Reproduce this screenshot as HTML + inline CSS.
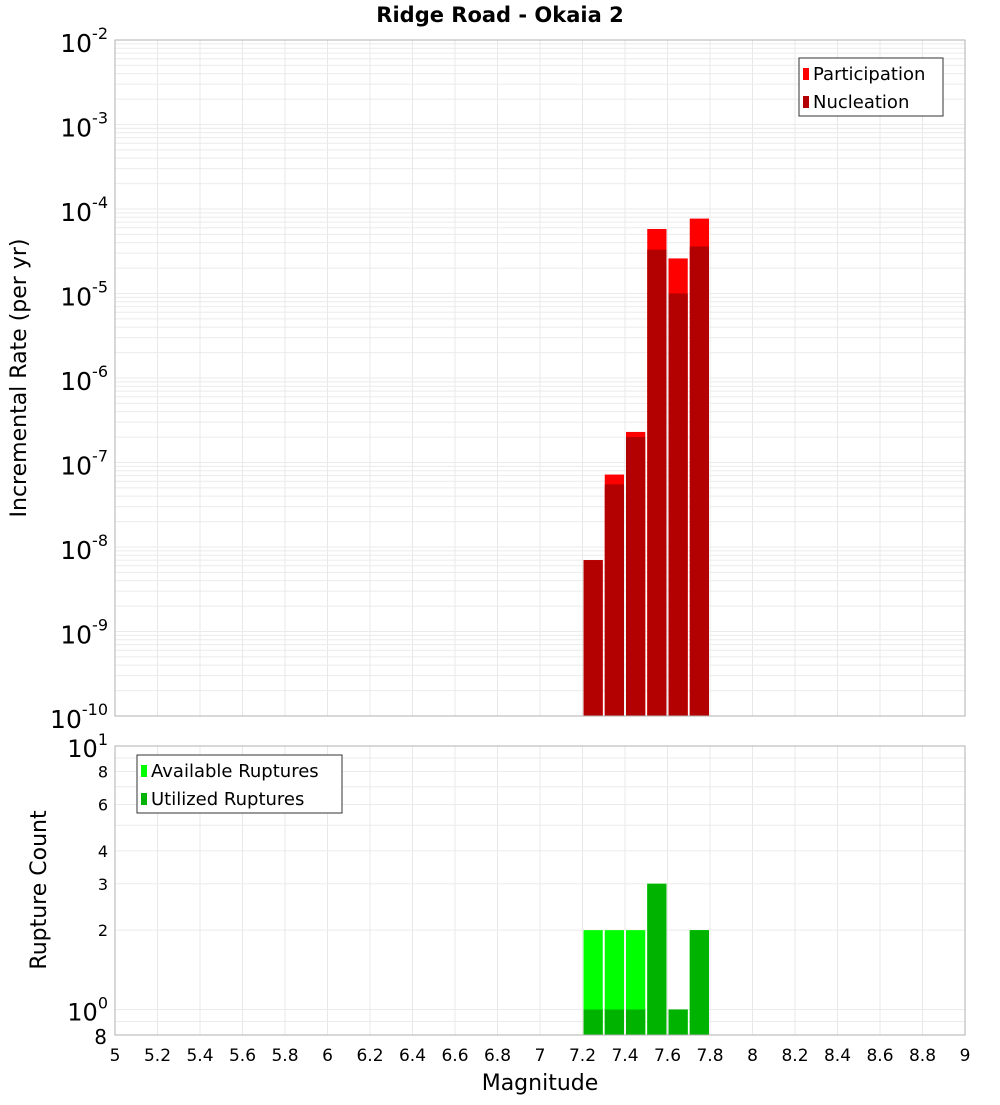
<!DOCTYPE html>
<html><head><meta charset="utf-8"><style>
body{margin:0;background:#fff}
svg text{font-family:"DejaVu Sans","Liberation Sans",sans-serif}
</style></head><body>
<svg id="c" width="1000" height="1100" xmlns="http://www.w3.org/2000/svg"></svg>
<script>
const binCenters=[7.25,7.35,7.45,7.55,7.65,7.75];
const participation=[7e-9,7.2e-8,2.3e-7,5.8e-5,2.6e-5,7.7e-5];
const nucleation=[7e-9,5.5e-8,2.0e-7,3.3e-5,1.0e-5,3.6e-5];
const available=[2,2,2,3,1,2];
const utilized=[1,1,1,3,1,2];
const xTicks=[5,5.2,5.4,5.6,5.8,6,6.2,6.4,6.6,6.8,7,7.2,7.4,7.6,7.8,8,8.2,8.4,8.6,8.8,9];
const topExps=[-2,-3,-4,-5,-6,-7,-8,-9,-10];
const botTicks=[8,1,2,3,4,6,8,10];

const svg=document.getElementById('c');
const NS='http://www.w3.org/2000/svg';
function mk(t,a,p){const e=document.createElementNS(NS,t);for(const k in a)e.setAttribute(k,a[k]);(p||svg).appendChild(e);return e;}
const L=115,R=965,T1=40,B1=716,T2=746,B2=1035;
const X=m=>L+(m-5)*(R-L)/4;
const Y1=v=>T1+(-2-Math.log10(v))*(B1-T1)/8;
const bMin=0.8,bMax=10;
const Y2=v=>T2+(Math.log10(bMax)-Math.log10(v))*(B2-T2)/(Math.log10(bMax)-Math.log10(bMin));

// title
let t=mk('text',{x:500,y:22,'text-anchor':'middle','font-size':21,'font-weight':'bold'});t.textContent='Ridge Road - Okaia 2';



// grids top
const g1=mk('g',{});


xTicks.forEach(m=>mk('line',{x1:X(m),x2:X(m),y1:T1,y2:B1,stroke:'#e8e8e8'},g1));
for(let e=-10;e<-2;e++)for(let k=1;k<10;k++){const y=Y1(k*Math.pow(10,e));mk('line',{x1:L,x2:R,y1:y,y2:y,stroke:'#ebebeb'},g1);}
// grids bottom
const g2=mk('g',{});


xTicks.forEach(m=>mk('line',{x1:X(m),x2:X(m),y1:T2,y2:B2,stroke:'#e8e8e8'},g2));
[0.8,0.9,1,2,3,4,5,6,7,8,9,10].forEach(v=>{const y=Y2(v);mk('line',{x1:L,x2:R,y1:y,y2:y,stroke:'#ebebeb'},g2);});

// bars top
const bw=(R-L)/40;
binCenters.forEach((m,i)=>{
  const x=X(m)-bw/2+1,w=bw-2;
  let r=mk('rect',{x:x,y:Y1(participation[i]),width:w,height:B1-Y1(participation[i]),fill:'#ff0000'});
  
  
  r=mk('rect',{x:x,y:Y1(nucleation[i]),width:w,height:B1-Y1(nucleation[i]),fill:'#b30000'});
  
  
  r=mk('rect',{x:x,y:Y2(available[i]),width:w,height:B2-Y2(available[i]),fill:'#00ff00'});
  
  
  r=mk('rect',{x:x,y:Y2(utilized[i]),width:w,height:B2-Y2(utilized[i]),fill:'#00b300'});
  
  
});

// frames
mk('rect',{x:L,y:T1,width:R-L,height:B1-T1,fill:'none',stroke:'#b0b0b0'});
mk('rect',{x:L,y:T2,width:R-L,height:B2-T2,fill:'none',stroke:'#b0b0b0'});

// top y labels
topExps.forEach(e=>{
  const y=Y1(Math.pow(10,e));
  const tx=mk('text',{x:108,y:y+12,'text-anchor':'end','font-size':25});
  
  
  tx.innerHTML='10<tspan dy="-13" font-size="16">'+e+'</tspan>';
});
// bottom y labels
const botLab=[[10,'10',1],[1,'10',0]];
botLab.forEach(b=>{const y=Y2(b[0]);const tx=mk('text',{x:108,y:y+11,'text-anchor':'end','font-size':24});
  
  
  tx.innerHTML=b[1]+'<tspan dy="-12" font-size="16">'+b[2]+'</tspan>';});
botTicks.forEach((v,i)=>{
  if(v===1||v===10)return;
  const val=(i===0)?0.8:v;const big=(i===0);
  const tx=mk('text',{x:big?107:108,y:Y2(val)+(big?9:6),'text-anchor':'end','font-size':big?20:16});
  
  
  tx.textContent=v;
});
// x labels
xTicks.forEach(m=>{const tx=mk('text',{x:X(m),y:1061,'text-anchor':'middle','font-size':17});
  
  
  tx.textContent=m;});
t=mk('text',{x:540,y:1090,'text-anchor':'middle','font-size':22});t.textContent='Magnitude';


t=mk('text',{x:0,y:0,'text-anchor':'middle','font-size':22,transform:'translate(26,378) rotate(-90)'});t.textContent='Incremental Rate (per yr)';


t=mk('text',{x:0,y:0,'text-anchor':'middle','font-size':22,transform:'translate(46,890) rotate(-90)'});t.textContent='Rupture Count';



// legends
function legend(x,y,w,items,name){
  const g=mk('g',{});
  
  
  mk('rect',{x:x,y:y,width:w,height:58,fill:'#fff',stroke:'#333'},g);
  items.forEach((it,i)=>{
    mk('rect',{x:x+4,y:y+10+i*28,width:6,height:12,fill:it[1]},g);
    const tx=mk('text',{x:x+14,y:y+22+i*28,'font-size':18},g);tx.textContent=it[0];
  });
}
legend(799,58,144,[['Participation','#ff0000'],['Nucleation','#b30000']],'rate-legend');
legend(137,755,205,[['Available Ruptures','#00ff00'],['Utilized Ruptures','#00b300']],'count-legend');
</script>
</body></html>
